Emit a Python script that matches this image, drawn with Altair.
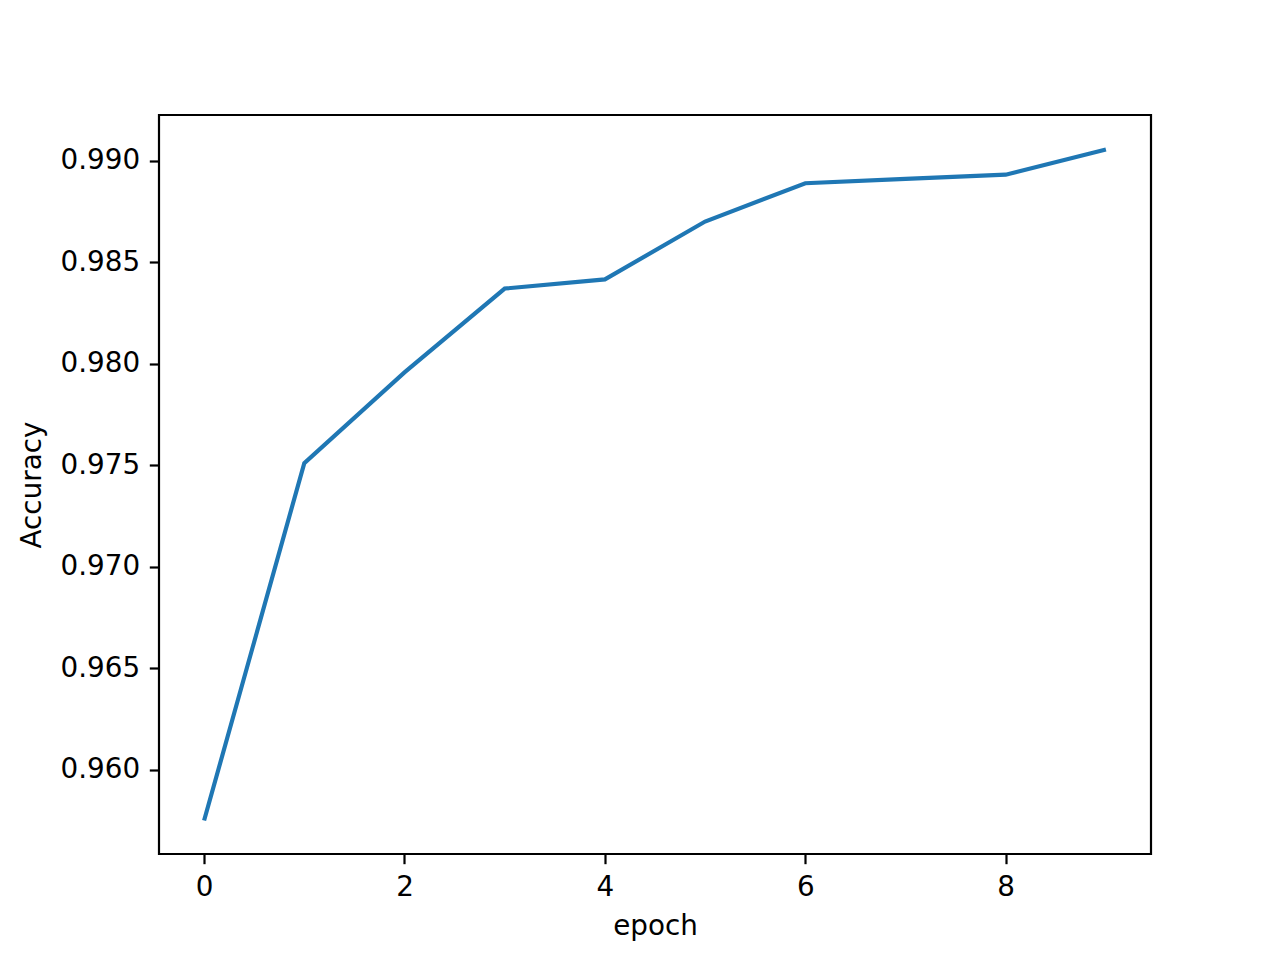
import altair as alt
import pandas as pd

epochs = [0, 1, 2, 3, 4, 5, 6, 7, 8, 9]
accuracy = [0.95749, 0.97510, 0.97957, 0.98370, 0.98415, 0.98700, 0.98889, 0.98910, 0.98931, 0.99055]
x_ticks = [0, 2, 4, 6, 8]
y_ticks = [0.960, 0.965, 0.970, 0.975, 0.980, 0.985, 0.990]

df = pd.DataFrame({"epoch": epochs, "Accuracy": accuracy})

FS = 27.8
FONT = "DejaVu Sans"

chart = alt.Chart(df).mark_line(color="#1f77b4", strokeWidth=4.17, clip=True).encode(
    x=alt.X("epoch:Q",
            scale=alt.Scale(domain=[-0.45, 9.45], nice=False, zero=False),
            axis=alt.Axis(values=x_ticks, format="d", title="epoch", grid=False,
                          tickSize=9.7, tickWidth=2.2, tickColor="black",
                          domain=False, labelPadding=9.7, labelFontSize=FS, labelFont=FONT,
                          labelColor="black", titleFontSize=FS, titleFont=FONT,
                          titleFontWeight="normal", titleColor="black", titlePadding=11)),
    y=alt.Y("Accuracy:Q",
            scale=alt.Scale(domain=[0.95584, 0.99225], nice=False, zero=False),
            axis=alt.Axis(values=y_ticks, format=".3f", title="Accuracy", grid=False,
                          tickSize=9.7, tickWidth=2.2, tickColor="black",
                          domain=False, labelPadding=9.7, labelFontSize=FS, labelFont=FONT,
                          labelColor="black", titleFontSize=FS, titleFont=FONT,
                          titleFontWeight="normal", titleColor="black", titlePadding=14)),
).properties(
    width=992, height=739,
    background="white",
    autosize=alt.AutoSizeParams(type="none"),
    padding={"left": 151, "top": 107, "right": 121, "bottom": 98},
).configure_view(
    stroke="black", strokeWidth=2.2
)

chart.save("out.html", embed_options={"renderer": "svg", "actions": False})
